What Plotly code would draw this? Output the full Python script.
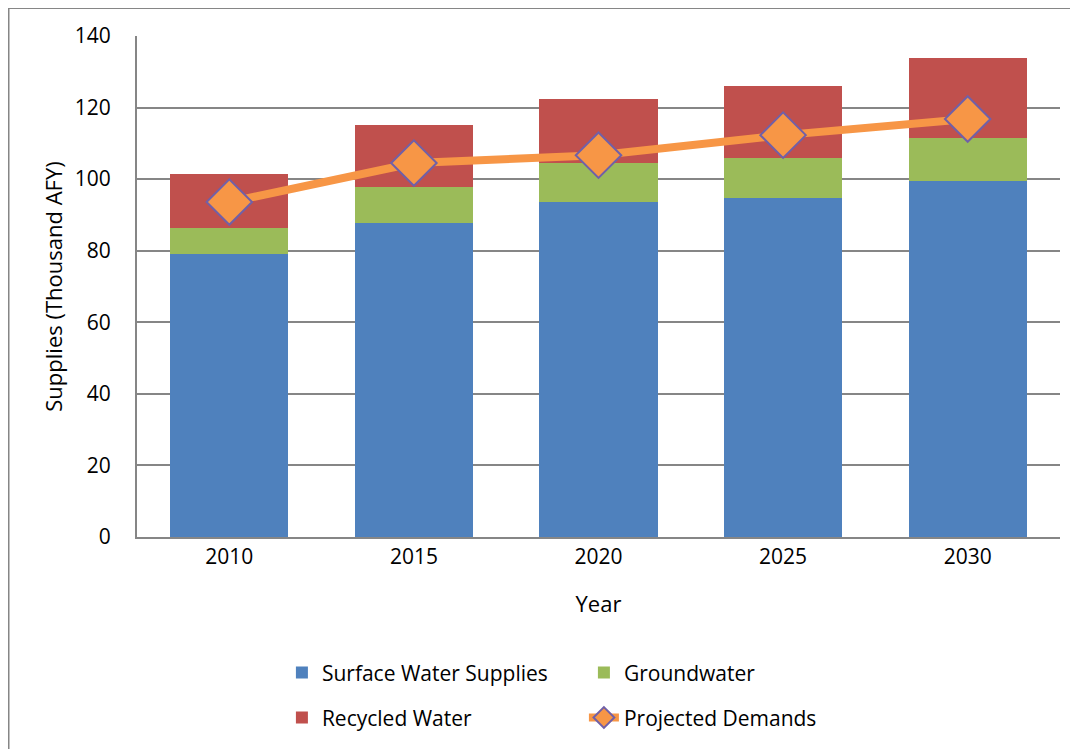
import plotly.graph_objects as go

# Values (thousand AFY)
years = ["2010", "2015", "2020", "2025", "2030"]
surface = [79.0, 87.8, 93.6, 94.7, 99.4]
groundwater = [7.3, 10.0, 10.8, 11.1, 12.0]
recycled = [15.1, 17.2, 17.9, 20.2, 22.4]
demands = [93.6, 104.5, 106.7, 112.3, 116.8]

font_family = "'Open Sans', sans-serif"

fig = go.Figure()
fig.add_trace(go.Bar(x=years, y=surface, name="Surface Water Supplies",
                     marker=dict(color="#4F81BD", line=dict(width=0)), legend="legend"))
fig.add_trace(go.Bar(x=years, y=groundwater, name="Groundwater",
                     marker=dict(color="#9BBB59", line=dict(width=0)), legend="legend"))
fig.add_trace(go.Bar(x=years, y=recycled, name="Recycled Water",
                     marker=dict(color="#C0504D", line=dict(width=0)), legend="legend2"))
fig.add_trace(go.Scatter(x=years, y=demands, name="Projected Demands", mode="lines+markers",
                         line=dict(color="#F79646", width=8),
                         marker=dict(symbol="diamond", size=35, color="#F79646",
                                     line=dict(color="#7060A8", width=2)),
                         legend="legend2"))

# the page body adds an 8px offset, so the figure is 8px smaller than the window
fig.update_layout(
    barmode="stack",
    bargap=0.36,
    width=1070, height=741,
    margin=dict(l=129, r=18, t=28, b=212, autoexpand=False),
    plot_bgcolor="white", paper_bgcolor="white",
    font=dict(family=font_family, size=18, color="black"),
    legend=dict(orientation="h", x=0.157, xanchor="left", y=-0.230, yanchor="top",
                entrywidth=257, font=dict(size=21), traceorder="normal"),
    legend2=dict(orientation="h", x=0.157, xanchor="left", y=-0.320, yanchor="top",
                 entrywidth=257, font=dict(size=21), traceorder="normal"),
)
fig.update_xaxes(title=dict(text="Year", standoff=27), showline=True, linecolor="#868686",
                 linewidth=2, ticks="", tickfont=dict(size=21), automargin=False)
fig.update_yaxes(title=dict(text="Supplies (Thousand AFY)", standoff=6), range=[0, 140],
                 dtick=20, showgrid=True, gridcolor="#868686", gridwidth=1.5,
                 showline=True, linecolor="#868686", linewidth=2, zeroline=False,
                 ticks="", tickfont=dict(size=21), ticklabelstandoff=20, automargin=False)

# outer frame: left and top edges only
fig.add_shape(type="line", xref="paper", yref="paper",
              x0=-0.1392, x1=-0.1392, y0=-0.43, y1=1.0559,
              line=dict(color="#868686", width=2))
fig.add_shape(type="line", xref="paper", yref="paper",
              x0=-0.1392, x1=1.03, y0=1.0559, y1=1.0559,
              line=dict(color="#868686", width=2))

fig.write_html("out.html")
